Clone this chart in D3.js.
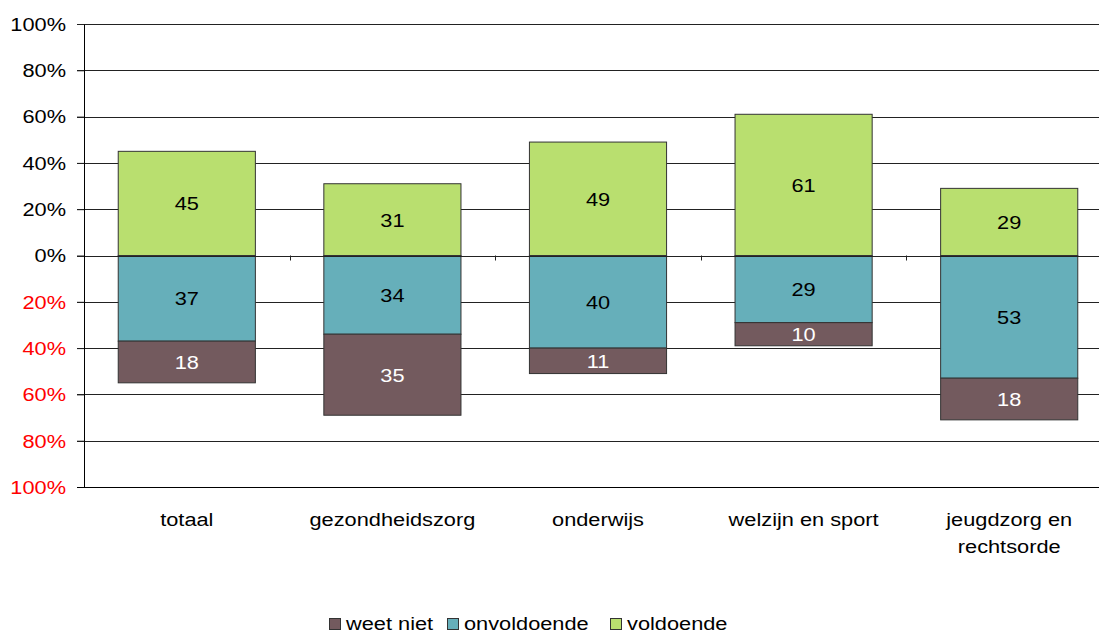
<!DOCTYPE html>
<html>
<head>
<meta charset="utf-8">
<script src="https://cdn.jsdelivr.net/npm/d3@7"></script>
<style>
  body { margin: 0; background: #fff; }
  text { font-family: "Liberation Sans", Arial, sans-serif; }
</style>
</head>
<body>
<div id="chart"></div>
<script>
(function(){
    var width = 1099,
        height = 634;

    // data
    var categories = ["totaal", "gezondheidszorg", "onderwijs", "welzijn en sport", "jeugdzorg en\nrechtsorde"];
    var voldoende   = [45, 31, 49, 61, 29];
    var onvoldoende = [37, 34, 40, 29, 53];
    var weetNiet    = [18, 35, 11, 10, 18];
    var yTicks = [100, 80, 60, 40, 20, 0, -20, -40, -60, -80, -100];
    var legendLabels = ["weet niet", "onvoldoende", "voldoende"];

    var colors = {
      voldoende: "#b9df6f",
      onvoldoende: "#66afba",
      weet: "#735a5e"
    };
    var sx = 1.21; // glyphs in the picture are a bit wide

    var margin = {left: 84, top: 24, right: -13, bottom: 147};
    var plotW = width - margin.left - margin.right,
        plotH = height - margin.top - margin.bottom;

    var svg = d3.select("#chart")
      .append("svg")
      .attr("width", width)
      .attr("height", height)

    var g = svg.append("g")
      .attr("transform", "translate(" + margin.left + "," + margin.top + ")")

    var x = d3.scaleBand().domain(d3.range(categories.length)).range([0, plotW]).paddingInner(0.333).paddingOuter(0.1665)
    var y = d3.scaleLinear().domain([-100, 100]).range([plotH, 0])

    // gridlines
    g.selectAll(".grid")
      .data(yTicks.filter(function(t){ return t !== -100 && t !== 0 }))
      .enter().append("line")
      .attr("x1", -7).attr("x2", plotW)
      .attr("y1", function(d){ return Math.round(y(d)) + 0.5 })
      .attr("y2", function(d){ return Math.round(y(d)) + 0.5 })
      .attr("stroke", "#222")
      .attr("stroke-width", 1)

    var rows = categories.map(function(c, i){
      return {i: i, v: voldoende[i], o: onvoldoende[i], w: weetNiet[i]}
    })

    function seg(cls, y0f, y1f, fill, val, txtColor){
      var s = g.selectAll("." + cls).data(rows).enter()
      s.append("rect")
        .attr("x", function(d){ return x(d.i) })
        .attr("width", x.bandwidth())
        .attr("y", function(d){ return y(Math.max(y0f(d), y1f(d))) })
        .attr("height", function(d){ return Math.abs(y(y0f(d)) - y(y1f(d))) })
        .attr("fill", fill)
        .attr("stroke", "#333")
        .attr("stroke-width", 1)
      s.append("text")
        .attr("transform", function(d){
          var cx = x(d.i) + x.bandwidth()/2,
              cy = (y(y0f(d)) + y(y1f(d)))/2 + 7;
          return "translate(" + cx + "," + cy + ") scale(" + sx + ",1)"
        })
        .attr("text-anchor", "middle")
        .attr("font-size", 18)
        .attr("fill", txtColor)
        .text(val)
    }

    seg("vold", function(d){ return 0 }, function(d){ return d.v }, colors.voldoende, function(d){ return d.v }, "#000")
    seg("onv", function(d){ return 0 }, function(d){ return -d.o }, colors.onvoldoende, function(d){ return d.o }, "#000")
    seg("weet", function(d){ return -d.o }, function(d){ return -d.o - d.w }, colors.weet, function(d){ return d.w }, "#fff")

    // zero line + category ticks
    g.append("line")
      .attr("x1", -7).attr("x2", plotW)
      .attr("y1", Math.round(y(0)) + 0.5).attr("y2", Math.round(y(0)) + 0.5)
      .attr("stroke", "#222")
    g.selectAll(".ctick")
      .data(d3.range(1, categories.length))
      .enter().append("line")
      .attr("x1", function(d){ return Math.round(plotW / categories.length * d) + 0.5 })
      .attr("x2", function(d){ return Math.round(plotW / categories.length * d) + 0.5 })
      .attr("y1", y(0)).attr("y2", y(0) + 5)
      .attr("stroke", "#222")

    // y axis
    var yAxis = g.append("g")
      .call(d3.axisLeft(y).tickValues(yTicks).tickSize(7).tickSizeOuter(0)
        .tickFormat(function(d){ return Math.abs(d) + "%" }))
    yAxis.select(".domain").attr("stroke", "#000")
    yAxis.selectAll(".tick line").attr("stroke", "#222")
    yAxis.selectAll(".tick text")
      .attr("font-family", "Liberation Sans, Arial, sans-serif")
      .attr("font-size", 18)
      .attr("x", -18 / sx)
      .attr("dy", "0.35em")
      .attr("transform", "scale(" + sx + ",1)")
      .attr("fill", function(d){ return d < 0 ? "#ff0000" : "#000" })

    // bottom line
    g.append("line")
      .attr("x1", -7).attr("x2", plotW)
      .attr("y1", Math.round(y(-100)) + 0.5).attr("y2", Math.round(y(-100)) + 0.5)
      .attr("stroke", "#000")

    // category labels
    var cl = g.selectAll(".clabel")
      .data(categories)
      .enter().append("text")
      .attr("text-anchor", "middle")
      .attr("font-size", 18)
      .attr("transform", function(d, i){
        return "translate(" + (x(i) + x.bandwidth()/2) + "," + (plotH + 39) + ") scale(" + sx + ",1)"
      })
    cl.selectAll("tspan")
      .data(function(d){ return d.split("\n") })
      .enter().append("tspan")
      .attr("x", 0)
      .attr("dy", function(d, i){ return i ? 27 : 0 })
      .text(function(d){ return d })

    // legend
    var legendX = [329, 447, 610],
        legendFill = [colors.weet, colors.onvoldoende, colors.voldoende];
    var lg = svg.selectAll(".legend")
      .data(legendLabels)
      .enter().append("g")
      .attr("transform", function(d, i){ return "translate(" + legendX[i] + ",618)" })
    lg.append("rect")
      .attr("x", 0.5).attr("y", 0.5)
      .attr("width", 11).attr("height", 11)
      .attr("fill", function(d, i){ return legendFill[i] })
      .attr("stroke", "#333")
    lg.append("text")
      .attr("transform", "translate(17,12) scale(" + sx + ",1)")
      .attr("font-size", 18)
      .text(function(d){ return d })
})();
</script>
</body>
</html>
